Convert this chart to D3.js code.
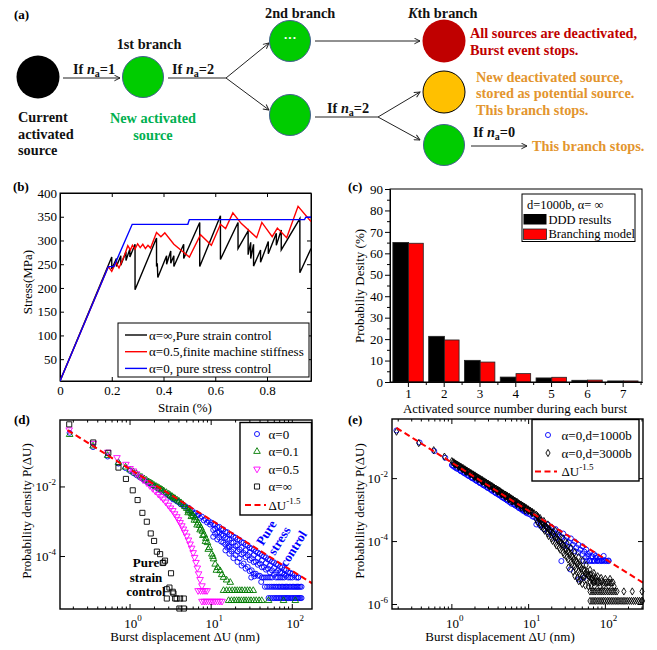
<!DOCTYPE html>
<html>
<head>
<meta charset="utf-8">
<script src="https://cdn.jsdelivr.net/npm/d3@7"></script>
<style>
  body { margin: 0; background: #fff; }
  svg { display: block; }
  text { font-family: "Liberation Serif", "Times New Roman", serif; }
</style>
</head>
<body>
<svg id="fig" width="657" height="650"></svg>
<script>
// ---------------- data ----------------
// (b) stress-strain curves [strain %, stress MPa]
var strainControl = [[0,4],[0.2,265],[0.2,240],[0.218,262],[0.218,245],[0.235,268],[0.235,248],[0.255,276],[0.255,258],[0.27,282],[0.27,265],[0.29,292],[0.29,196],[0.373,305],[0.373,245],[0.376,252],[0.378,222],[0.412,268],[0.412,250],[0.428,278],[0.428,252],[0.44,268],[0.44,245],[0.478,292],[0.478,262],[0.54,338],[0.54,245],[0.62,352],[0.62,260],[0.688,338],[0.688,283],[0.727,320],[0.727,270],[0.737,296],[0.737,262],[0.748,292],[0.748,246],[0.775,280],[0.775,254],[0.805,298],[0.805,272],[0.836,315],[0.836,290],[0.855,322],[0.855,280],[0.927,346],[0.927,232],[0.97,283]];
var finiteStiffness = [[0,4],[0.187,245],[0.2,235],[0.216,254],[0.228,242],[0.25,270],[0.262,289],[0.272,280],[0.28,290],[0.29,282],[0.3,293],[0.31,285],[0.32,292],[0.33,283],[0.34,290],[0.35,284],[0.373,317],[0.39,308],[0.405,316],[0.44,292],[0.5,265],[0.543,312],[0.585,290],[0.62,334],[0.64,325],[0.668,358],[0.7,336],[0.76,306],[0.78,338],[0.82,308],[0.84,326],[0.876,306],[0.92,372],[0.97,340]];
var stressControl = [[0,4],[0.187,245],[0.208,245],[0.279,334],[0.494,334],[0.5,344],[0.945,344],[0.95,349],[0.97,349]];

// (c) activated source number per burst, probability (%)
var sourceNumbers = [1, 2, 3, 4, 5, 6, 7];
var dddResults = [65.1, 21.3, 10.1, 2.3, 1.9, 0.8, 0.5];
var branchingModel = [64.7, 19.6, 9.3, 3.9, 2.2, 0.9, 0.5];

// (d) burst size distributions [dU nm, P]
var dAlpha0 = [[0.18,0.36],[0.35,0.14],[0.53,0.075],[0.72,0.047],[0.88,0.035],[1.0,0.029],[1.1,0.025],[1.2,0.022],[1.3,0.0195],[1.4,0.0175],[1.5,0.0158],[1.6,0.0143],[1.7,0.013],[1.8,0.012],[1.9,0.011],[2.0,0.0103],[2.2,0.0089],[2.4,0.0078],[2.6,0.007],[2.8,0.0063],[3.0,0.0057],[3.3,0.0049],[3.6,0.0043],[4.0,0.0037],[4.4,0.0032],[4.8,0.0028],[5.3,0.0025],[5.8,0.0021],[6.4,0.0018],[7.0,0.0016],[7.7,0.0014],[8.5,0.0012],[9.3,0.00105],[10,9.5e-4],
  [3.1,0.0052],[3.4,0.0044],[3.8,0.0038],[4.2,0.0032],[4.6,0.0028],[5.1,0.0024],[5.6,0.002],[6.1,0.0017],[6.7,0.0015],[7.3,0.0013],[8.1,0.0011],[8.9,9.5e-4],[9.7,8.3e-4],
  [11.2,8.3e-4],[11.2,6.3e-4],[11.2,4.5e-4],[12.6,7.1e-4],[12.6,5e-4],[12.6,3.5e-4],[14.1,6e-4],[14.1,4e-4],[14.1,2.5e-4],[15.8,5e-4],[15.8,3.2e-4],[15.8,1.8e-4],[16.4,2.04e-4],[17.8,4.2e-4],[17.8,2.5e-4],[17.8,1.4e-4],[20,3.5e-4],[20,2e-4],[20,1.1e-4],[22.4,3e-4],[22.4,1.6e-4],[22.4,8.9e-5],[25.1,2.5e-4],[25.1,1.26e-4],[25.1,6.3e-5],[28.2,2.1e-4],[28.2,1.1e-4],[28.2,5e-5],[31.2,2.5e-5],[31.6,1.7e-4],[31.6,8.9e-5],[31.6,4e-5],[34,2.7e-5],[35.5,1.4e-4],[35.5,7.1e-5],[35.5,3.2e-5],[39.8,1.2e-4],[39.8,6.3e-5],[39.8,2.8e-5],[41.4,1.86e-5],[44.7,1e-4],[44.7,5e-5],[44.7,2.5e-5],[50.1,8.3e-5],[50.1,4.5e-5],[50.1,2.5e-5],[56.2,7.1e-5],[56.2,4e-5],[56.2,2.5e-5],[63.1,6e-5],[63.1,3.5e-5],[63.1,2.5e-5],[70.8,5e-5],[70.8,3.5e-5],[70.8,2.5e-5],[79.4,4.2e-5],[79.4,3e-5],[79.4,2.5e-5],[89.1,3.5e-5],[89.1,2.5e-5],[100,3.2e-5],[100,2.5e-5],[112,2.5e-5],[118,2.5e-5],
  [10.6,8.4e-4],[10.6,5.8e-4],[10.6,3.7e-4],[11.9,7.1e-4],[11.9,4.9e-4],[11.9,3.1e-4],[13.3,6.1e-4],[13.3,4.2e-4],[13.3,2.7e-4],
  [15,5.1e-4],[15,3.5e-4],[15,2.2e-4],[15,1.5e-4],[16.8,4.3e-4],[16.8,3e-4],[16.8,1.9e-4],[16.8,1.2e-4],
  [18.8,3.7e-4],[18.8,2.5e-4],[18.8,1.6e-4],[18.8,9e-5],[21.1,3.1e-4],[21.1,2.1e-4],[21.1,1.4e-4],[21.1,7e-5],
  [23.7,2.6e-4],[23.7,1.8e-4],[23.7,1.15e-4],[23.7,5.5e-5],[26.6,2.2e-4],[26.6,1.5e-4],[26.6,9.6e-5],[26.6,4.5e-5],
  [29.9,1.8e-4],[29.9,1.3e-4],[29.9,8e-5],[29.9,3.8e-5],[33.5,1.6e-4],[33.5,1.1e-4],[33.5,6.9e-5],[33.5,3.2e-5],
  [37.6,1.3e-4],[37.6,9.1e-5],[37.6,5.8e-5],[37.6,2.8e-5],[42.2,1.1e-4],[42.2,7.7e-5],[42.2,4.9e-5],[42.2,2.5e-5],
  [47.3,9.5e-5],[47.3,6.5e-5],[47.3,4.2e-5],[47.3,2.5e-5],[53.1,8e-5],[53.1,5.5e-5],[53.1,3.5e-5],[53.1,2.5e-5],
  [59.6,6.8e-5],[59.6,4.7e-5],[59.6,3e-5],[66.8,5.8e-5],[66.8,4e-5],[66.8,2.5e-5],[75,4.9e-5],[75,3.4e-5],[75,2.5e-5],
  [84.1,4.1e-5],[84.1,2.8e-5],[94.4,3.4e-5],[94.4,2.5e-5],[106,2.9e-5],[119,2.5e-5],
  [46,1.35e-5],[49,1.35e-5],[52,1.35e-5],[55,1.35e-5],[58,1.35e-5],[61,1.35e-5],[64,1.35e-5],[67,1.35e-5],[70,1.35e-5],[73,1.35e-5],[76,1.35e-5],[79,1.35e-5],[82,1.35e-5],[85,1.35e-5],[88,1.35e-5],[92,1.35e-5],[96,1.35e-5],[100,1.35e-5],[104,1.35e-5],[108,1.35e-5],[112,1.35e-5],[116,1.35e-5],[120,1.35e-5],[125,1.35e-5],[130,1.35e-5],
  [51,6.4e-6],[54,6.4e-6],[57,6.4e-6],[60,6.4e-6],[63,6.4e-6],[66,6.4e-6],[69,6.4e-6],[72,6.4e-6],[75,6.4e-6],[78,6.4e-6],[81,6.4e-6],[84,6.4e-6],[87,6.4e-6],[90,6.4e-6],[94,6.4e-6],[98,6.4e-6],[102,6.4e-6],[106,6.4e-6],[110,6.4e-6],[114,6.4e-6],[118,6.4e-6],[122,6.4e-6],[126,6.4e-6],[130,6.4e-6]];
var dAlpha01 = [[0.18,0.32],[0.35,0.15],[0.53,0.08],[0.72,0.05],[0.88,0.037],[1.0,0.031],[1.1,0.027],[1.2,0.024],[1.3,0.021],[1.4,0.019],[1.5,0.017],[1.6,0.0155],[1.7,0.014],[1.8,0.013],[1.9,0.012],[2.0,0.011],[2.1,0.0103],[2.2,0.0097],[2.3,0.0091],[2.4,0.0086],[2.5,0.0081],[2.6,0.0077],[2.8,0.0069],[3.0,0.0062],[3.15,0.0057],[3.3,0.0053],[3.45,0.0049],[3.6,0.0046],[3.8,0.0042],[4.0,0.0039],[4.25,0.0035],[4.5,0.0031],[4.75,0.0027],[5.0,0.0024],[5.25,0.0021],[5.5,0.0019],[5.75,0.0017],[6.0,0.0015],[6.3,0.0013],[6.6,0.0011],[6.9,9.2e-4],[7.2,7.8e-4],[7.5,6.5e-4],[7.8,5.3e-4],[8.2,4.2e-4],[8.6,3.3e-4],[9.0,2.5e-4],[9.5,1.8e-4],[10.2,1.17e-4],[10.7,8.5e-5],[11.2,6e-5],[12.0,4.8e-5],[12.9,3.9e-5],[13.5,3e-5],[14.2,2.5e-5],[15.5,2.1e-5],[17.2,1.8e-5],
  [5.2,0.0018],[5.7,0.0014],[6.2,0.0011],[6.7,8e-4],[7.3,5.8e-4],[7.9,4e-4],[8.5,2.7e-4],[9.2,1.6e-4],[10.5,1e-4],[11.6,4e-5],
  [14.2,1.05e-5],[15.5,1.05e-5],[16.8,1.05e-5],[18.2,1.05e-5],[19.6,1.05e-5],[21,1.05e-5],[22.5,1.05e-5],[24,1.05e-5],[26,1.05e-5],[28,1.05e-5],[30,1.05e-5],[33,1.05e-5],
  [16.4,5.4e-6],[17.8,5.4e-6],[19.2,5.4e-6],[20.6,5.4e-6],[22,5.4e-6],[23.6,5.4e-6],[25.3,5.4e-6],[27,5.4e-6],[29,5.4e-6],[31,5.4e-6],[33.5,5.4e-6],[36,5.4e-6],[39,5.4e-6],[42,5.4e-6],[51,5.4e-6],[78,5.4e-6],[109,5.4e-6]];
var dAlpha05 = [[0.178,0.44],[0.352,0.18],[0.53,0.1],[0.69,0.07],[0.89,0.045],[1.0,0.034],[1.1,0.029],[1.2,0.024],[1.33,0.0195],[1.45,0.016],[1.61,0.0133],[1.75,0.011],[1.9,0.0091],[2.05,0.0076],[2.24,0.0062],[2.4,0.0053],[2.57,0.0045],[2.75,0.0037],[2.97,0.003],[3.15,0.0025],[3.37,0.0021],[3.55,0.0017],[3.77,0.0014],[3.95,0.00115],[4.14,9.5e-4],[4.35,7.7e-4],[4.55,6.2e-4],[4.75,5e-4],[5.0,3.9e-4],[5.25,3e-4],[5.5,2.3e-4],[5.75,1.75e-4],[6.0,1.3e-4],[6.25,9.5e-5],[6.5,6.8e-5],[6.75,4.7e-5],[7.0,3.2e-5],[7.3,2.2e-5],[7.7,1.45e-5],
  [6.9,1.05e-5],[7.4,1.05e-5],[7.9,1.05e-5],[8.4,1.05e-5],[8.9,1.05e-5],
  [7.7,5.2e-6],[8.2,5.2e-6],[8.7,5.2e-6],[9.3,5.2e-6],[9.9,5.2e-6],[10.5,5.2e-6],[11.2,5.2e-6],[12,5.2e-6],[12.8,5.2e-6],[13.6,5.2e-6]];
var dAlphaInf = [[0.178,0.63],[0.352,0.19],[0.54,0.096],[0.72,0.036],[0.89,0.017],[1.08,0.008],[1.24,0.0042],[1.42,0.0018],[1.61,0.001],[1.8,4.6e-4],[1.98,2.8e-4],[2.14,1.38e-4],[2.35,1.17e-4],[2.53,6.5e-5],[2.7,7.6e-5],[2.58,6.7e-5],[3.2,3.3e-5],[3.06,1.28e-5],[3.36,9.7e-6],[2.84,1.15e-5],[3.43,8.7e-6],[2.84,6.2e-6],[3.6,6.2e-6],[3.75,6.2e-6],[4.14,6.2e-6],[4.6,6.2e-6],[4.06,3.2e-6],[4.6,3.2e-6]];
var dashD = [[0.17, 0.43], [175, 1.7e-5]];

// (e) size effect
var eD1000 = [[0.19,0.34],[0.38,0.14],[0.59,0.075],[0.82,0.046],[1.0,0.027],[1.12,0.0224],[1.26,0.019],[1.41,0.0158],[1.58,0.0132],[1.78,0.011],[2.0,0.0093],[2.24,0.0078],[2.51,0.0065],[2.82,0.0055],[3.16,0.0046],[3.55,0.0038],[3.98,0.0032],[4.47,0.0026],[5.01,0.0022],[5.62,0.0018],[6.31,0.00155],[7.08,0.0013],[7.94,0.00107],[8.91,8.9e-4],[10,7.6e-4],[11.2,6.3e-4],
  [1.06,0.024],[1.19,0.0205],[1.33,0.017],[1.5,0.0143],[1.68,0.012],[1.89,0.01],[2.12,0.0084],[2.37,0.0071],[2.66,0.006],[2.99,0.005],[3.35,0.0041],[3.76,0.0034],[4.22,0.0029],[4.73,0.0024],[5.3,0.002],[5.96,0.0016],[6.68,0.0014],[7.5,0.00115],[8.4,9.6e-4],[9.4,8e-4],
  [1.03,0.026],[1.15,0.021],[1.3,0.0175],[1.45,0.0148],[1.63,0.0124],[1.83,0.0104],[2.06,0.0087],[2.31,0.0073],[2.6,0.0061],[2.92,0.0051],[3.28,0.0043],[3.68,0.0036],[4.13,0.003],[4.64,0.0025],[5.21,0.0021],[5.85,0.0018],[6.57,0.0015],[7.38,0.00125],[8.29,0.00104],[9.31,8.7e-4],[10.5,7.2e-4],[11.8,6e-4],
  [12.6,5.6e-4],[12.6,3.5e-4],[14.1,5e-4],[14.1,3.2e-4],[15.8,4e-4],[15.8,2.5e-4],[17.8,3.5e-4],[17.8,2e-4],[20,2.8e-4],[20,1.6e-4],[22.4,2.5e-4],[22.4,1.26e-4],[25.1,2e-4],[25.1,1e-4],[28.2,1.8e-4],[28.2,7.9e-5],[31.6,1.4e-4],[31.6,7.1e-5],[35.5,1.26e-4],[35.5,6.3e-5],[39.8,1e-4],[39.8,5e-5],[44.7,7.9e-5],[44.7,4.5e-5],[50.1,7.1e-5],[50.1,4e-5],[56.2,5.6e-5],[56.2,3.2e-5],[63.1,4.5e-5],[63.1,2.5e-5],[70.8,4e-5],[70.8,2.5e-5],[79.4,3.2e-5],[79.4,2.5e-5],[89.1,2.5e-5],[100,2.5e-5],[110,2.5e-5],
  [13.3,4.3e-4],[15,3.5e-4],[16.8,3e-4],[18.9,2.4e-4],[21.2,2e-4],[23.7,1.7e-4],[26.6,1.4e-4],[30,1.1e-4],[33.5,9.5e-5],[37.6,8e-5],[42,6.5e-5],[47.3,5.5e-5],[53,4.8e-5],[59.5,4e-5],[67,3.4e-5],[75,3e-5],[84,2.8e-5],[94,2.6e-5],
  [26.7,2.4e-5],[35,1.3e-5],[44.9,6.3e-6],[52,7e-6],
  [52,2.4e-5],[57,2.4e-5],[62,2.4e-5],[67,2.4e-5],[72,2.4e-5],[78,2.4e-5],[84,2.4e-5],[90,2.4e-5],[97,2.4e-5],[104,2.4e-5],[110,2.4e-5],[60,3.5e-5],[75,3.5e-5],[95,3.5e-5]];
var eD3000 = [[0.19,0.31],[0.37,0.135],[0.58,0.08],[0.8,0.05],[1.0,0.036],[1.06,0.033],[1.12,0.03],[1.19,0.0275],[1.26,0.025],[1.33,0.023],[1.41,0.0214],[1.5,0.0195],[1.58,0.0178],[1.68,0.0162],[1.78,0.0148],[1.89,0.0136],[2.0,0.0126],[2.12,0.0114],[2.24,0.0105],[2.37,0.0096],[2.51,0.0089],[2.66,0.0081],[2.82,0.0074],[2.99,0.0068],[3.16,0.0062],[3.35,0.0057],[3.55,0.0052],[3.76,0.0048],[3.98,0.0044],[4.22,0.004],[4.47,0.0036],[4.73,0.0033],[5.01,0.0031],[5.3,0.0028],[5.62,0.0026],[5.96,0.0023],[6.31,0.0021],[6.68,0.0019],[7.08,0.0018],[7.5,0.0016],[7.94,0.0015],[8.4,0.00135],[8.91,0.00123],[9.4,0.00112],[10,0.00102],[10.6,9.2e-4],[11.2,8.5e-4],
  [1.5,0.017],[2.0,0.0112],[2.5,0.008],[3.0,0.006],[3.5,0.0047],[4.0,0.0038],[4.5,0.0031],[5.0,0.0026],[5.5,0.0022],[6.0,0.0019],[7.0,0.0015],[8.0,0.0012],[9.0,9.8e-4],
  [1.03,0.033],[1.09,0.0305],[1.15,0.028],[1.22,0.0255],[1.3,0.0235],[1.37,0.0215],[1.45,0.0197],[1.54,0.018],[1.63,0.0166],[1.73,0.0152],[1.83,0.0139],[1.94,0.0127],[2.06,0.0117],[2.18,0.0107],[2.31,0.0098],[2.45,0.009],[2.6,0.0082],[2.75,0.0076],[2.92,0.0069],[3.09,0.0063],[3.28,0.0058],[3.47,0.0053],[3.68,0.0048],[3.9,0.0044],[4.13,0.0041],[4.38,0.0037],[4.64,0.0034],[4.92,0.0031],[5.21,0.0028],[5.52,0.0026],[5.85,0.0024],[6.2,0.0022],[6.57,0.002],[6.96,0.0018],[7.38,0.00165],[7.82,0.0015],[8.29,0.00138],[8.78,0.00127],[9.31,0.00116],[9.86,0.00106],[10.5,9.5e-4],[11.1,8.7e-4],[11.8,7.9e-4],
  [1.09,0.028],[1.22,0.0237],[1.37,0.0198],[1.54,0.0165],[1.73,0.0138],[1.94,0.0116],[2.18,0.0097],[2.45,0.0081],[2.75,0.0068],[3.09,0.0056],[3.47,0.0047],[3.9,0.0039],[4.38,0.0033],[4.92,0.0028],[5.52,0.0023],[6.2,0.0019],[6.96,0.0016],[7.82,0.00135],[8.78,0.00114],[9.86,9.5e-4],[11.1,8e-4],
  [12.6,7.1e-4],[12.6,5e-4],[14.1,5.6e-4],[14.1,3.5e-4],[15.8,4.5e-4],[15.8,2.5e-4],[17.8,3.5e-4],[17.8,1.8e-4],[20,2.8e-4],[20,1.26e-4],[22.4,2.2e-4],[22.4,8.9e-5],[25.1,1.6e-4],[25.1,6.3e-5],[28.2,1.26e-4],[28.2,4.5e-5],[31.6,8.9e-5],[31.6,3.2e-5],[35.5,6.3e-5],[35.5,2.2e-5],[39.8,4.5e-5],[39.8,1.6e-5],[44.7,3.2e-5],[44.7,1.1e-5],[50.1,2.5e-5],[50.1,7.9e-6],[56.2,1.8e-5],[56.2,6.3e-6],[63.1,1.26e-5],[63.1,5e-6],[70.8,1e-5],[70.8,5e-6],[79.4,7.9e-6],[79.4,5e-6],[89,5.6e-6],[100,5e-6],[112,5e-6],[126,5e-6],
  [13.3,6e-4],[15,4e-4],[16.8,3e-4],[18.9,2.2e-4],[21.2,1.7e-4],[23.7,1.2e-4],[26.6,9e-5],[30,6e-5],[33.5,4.5e-5],[37.6,3.2e-5],[42,2.2e-5],[47,1.6e-5],[53,1.2e-5],[60,8.5e-6],[67,7e-6],
  [13,6.5e-4],[13,4.2e-4],[13.7,5.2e-4],[14.5,4.6e-4],[14.5,3e-4],[15.3,3.8e-4],[16.2,3.4e-4],[16.2,2.2e-4],[17.2,2.8e-4],[18.2,2.5e-4],[18.2,1.5e-4],[19.3,2.1e-4],[20.5,1.9e-4],[20.5,1.05e-4],[21.7,1.5e-4],[23,1.35e-4],[23,7.5e-5],[24.4,1.1e-4],[25.8,9.5e-5],[25.8,5.5e-5],[27.4,8e-5],[29,7e-5],[29,3.8e-5],[30.8,5.6e-5],[32.6,5e-5],[32.6,2.7e-5],[34.6,4e-5],[36.6,3.5e-5],[36.6,1.9e-5],[38.8,2.8e-5],[41.1,2.5e-5],[41.1,1.35e-5],[43.6,2e-5],[46.2,1.8e-5],[46.2,9.5e-6],[49,1.4e-5],[51.9,1.3e-5],[55,1e-5],[58.3,9e-6],[61.8,7.5e-6],[65.5,6.5e-6],[69.4,6e-6],[73.6,5.5e-6],[78,5.5e-6],[84,5e-6],[95,5e-6],[106,5e-6],[119,5e-6],
  [40,8e-6],[45,5.5e-6],[50,4.5e-6],[55,4e-6],[60,3.8e-6],[65,4e-6],[72,3.8e-6],[85,3.8e-6],[95,4e-6],[110,3.8e-6],[130,3.8e-6],[33,1.5e-5],[38,1.1e-5],[43,7e-6],[48,6e-6],[53,7.5e-6],[58,1.1e-5],[64,9e-6],[70,8e-6],[76,7e-6],[88,7e-6],[100,6.5e-6],[115,6.5e-6],
  [63,2.6e-6],[67,2.6e-6],[71,2.6e-6],[75,2.6e-6],[80,2.6e-6],[85,2.6e-6],[90,2.6e-6],[95,2.6e-6],[100,2.6e-6],[106,2.6e-6],[112,2.6e-6],[119,2.6e-6],[126,2.6e-6],[134,2.6e-6],[142,2.6e-6],[174,2.6e-6],[224,2.6e-6],[300,2.6e-6],
  [63,1.3e-6],[67,1.3e-6],[71,1.3e-6],[75,1.3e-6],[80,1.3e-6],[85,1.3e-6],[90,1.3e-6],[95,1.3e-6],[100,1.3e-6],[106,1.3e-6],[112,1.3e-6],[119,1.3e-6],[126,1.3e-6],[134,1.3e-6],[142,1.3e-6],[150,1.3e-6],[160,1.3e-6],[170,1.3e-6],[180,1.3e-6],[192,1.3e-6],[205,1.3e-6],[218,1.3e-6],[232,1.3e-6],[246,1.3e-6],[262,1.3e-6],[278,1.3e-6],[295,1.3e-6],[305,1.3e-6]];
var dashE = [[0.19, 0.41], [309, 4.9e-6]];

// ---------------- setup ----------------
var svg = d3.select("#fig");
var serif = "Liberation Serif";

var defs = svg.append("defs");
defs.append("marker")
    .attr("id", "arrow")
    .attr("viewBox", "0 0 10 10")
    .attr("refX", 9).attr("refY", 5)
    .attr("markerWidth", 7).attr("markerHeight", 7)
    .attr("markerUnits", "userSpaceOnUse")
    .attr("orient", "auto")
    .append("path")
    .attr("d", "M1,1 L9,5 L1,9")
    .attr("fill", "none")
    .attr("stroke", "#222")
    .attr("stroke-width", 1.4);

function panelLabel(x, y, t) {
    svg.append("text").attr("x", x).attr("y", y)
        .attr("font-size", 13).attr("font-weight", "bold").text(t);
}

// scale a group of texts so that one reference text gets the wanted width
function fitGroup(texts, ref, target) {
    var w = ref.node().getComputedTextLength();
    if (!w) return;
    var k = target / w;
    if (Math.abs(k - 1) < 0.03) return;
    texts.forEach(function(t) { t.attr("font-size", +t.attr("font-size") * k); });
}

// ---------------- (a) branching diagram ----------------
var ga = svg.append("g");
var aGreen = "#00cc00", aRed = "#c00000", aOrange = "#e3952e";
var aNodes = [
    {cx: 38, cy: 77, r: 21.5, fill: "#000", stroke: "none"},
    {cx: 143, cy: 77, r: 20.5, fill: aGreen, stroke: "#44618f"},
    {cx: 290, cy: 41, r: 20.5, fill: aGreen, stroke: "#44618f"},
    {cx: 290, cy: 115, r: 20.5, fill: aGreen, stroke: "#44618f"},
    {cx: 444, cy: 41, r: 21.5, fill: aRed, stroke: "none"},
    {cx: 444, cy: 92, r: 21, fill: "#ffc000", stroke: "#000"},
    {cx: 444, cy: 145, r: 20.5, fill: aGreen, stroke: "#44618f"}
];
var aLinks = [
    {p: [[63,78],[120,78]], head: true},
    {p: [[168,78],[226,78]], head: false},
    {p: [[226,78],[269,43]], head: true},
    {p: [[226,78],[269,110]], head: true},
    {p: [[315,41],[420,41]], head: true},
    {p: [[315,117],[378,117]], head: false},
    {p: [[378,117],[420,92]], head: true},
    {p: [[378,117],[420,140]], head: true},
    {p: [[471,146],[527,146]], head: true}
];
aLinks.forEach(function(l) {
    ga.append("line")
        .attr("x1", l.p[0][0]).attr("y1", l.p[0][1])
        .attr("x2", l.p[1][0]).attr("y2", l.p[1][1])
        .attr("stroke", "#222").attr("stroke-width", 1)
        .attr("marker-end", l.head ? "url(#arrow)" : null);
});
ga.selectAll("circle").data(aNodes).join("circle")
    .attr("cx", d => d.cx).attr("cy", d => d.cy).attr("r", d => d.r)
    .attr("fill", d => d.fill).attr("stroke", d => d.stroke).attr("stroke-width", 1);
ga.append("text").attr("x", 290).attr("y", 42).attr("text-anchor", "middle")
    .attr("fill", "#fff").attr("font-size", 13).attr("font-weight", "bold").text("···");

var aFont = 14.3;
function aText(x, y, color, anchor) {
    return ga.append("text").attr("x", x).attr("y", y).attr("fill", color)
        .attr("font-size", aFont).attr("font-weight", "bold")
        .attr("text-anchor", anchor || "start");
}
function ifNa(x, y, v) {
    var t = aText(x, y, "#111");
    t.append("tspan").text("If ");
    t.append("tspan").attr("font-style", "italic").text("n");
    t.append("tspan").attr("font-size", 10).attr("dy", 3).text("a");
    t.append("tspan").attr("dy", -3).text("=" + v);
}
ifNa(73, 74, "1");
ifNa(172, 74, "2");
ifNa(327, 113, "2");
ifNa(473, 137, "0");
aText(149, 49, "#111", "middle").text("1st branch");
aText(265, 18, "#111").text("2nd branch");
var kth = aText(408, 18, "#111");
kth.append("tspan").attr("font-style", "italic").text("K");
kth.append("tspan").text("th branch");
aText(18, 122, "#111").text("Current");
aText(18, 138.5, "#111").text("activated");
aText(18, 155, "#111").text("source");
aText(153, 123, "#00b050", "middle").text("New activated");
aText(153, 140, "#00b050", "middle").text("source");
var aLong = [
    aText(470, 37.5, aRed).text("All sources are deactivated,"),
    aText(470, 54.5, aRed).text("Burst event stops."),
    aText(476, 81.5, aOrange).text("New deactivated source,"),
    aText(476, 98.3, aOrange).text("stored as potential source."),
    aText(476, 114.5, aOrange).text("This branch stops."),
    aText(532, 150.5, aOrange).text("This branch stops.")
];
fitGroup(aLong, aLong[0], 164);
panelLabel(14, 19, "(a)");

// ---------------- (b) stress-strain ----------------
var xb = d3.scaleLinear().domain([0, 0.97]).range([60, 311]);
var yb = d3.scaleLinear().domain([4, 400]).range([381, 193]);
var gb = svg.append("g");

function styleAxis(g, size) {
    g.attr("font-family", serif).attr("font-size", size);
    g.selectAll("text").attr("fill", "#000");
}
var bxTicks = [0, 0.2, 0.4, 0.6, 0.8];
var byTicks = [50, 100, 150, 200, 250, 300, 350, 400];
gb.append("g").attr("transform", "translate(0,381)")
    .call(d3.axisBottom(xb).tickValues(bxTicks).tickFormat(d => d === 0 ? "0" : d3.format(".1f")(d))
        .tickSizeInner(-4).tickSizeOuter(0).tickPadding(5))
    .call(g => styleAxis(g, 13));
gb.append("g").attr("transform", "translate(0,193)")
    .call(d3.axisTop(xb).tickValues(bxTicks.slice(1)).tickFormat("").tickSizeInner(-4).tickSizeOuter(0));
gb.append("g").attr("transform", "translate(60,0)")
    .call(d3.axisLeft(yb).tickValues(byTicks).tickSizeInner(-4).tickSizeOuter(0).tickPadding(3))
    .call(g => styleAxis(g, 13));
gb.append("g").attr("transform", "translate(311,0)")
    .call(d3.axisRight(yb).tickValues(byTicks).tickFormat("").tickSizeInner(-4).tickSizeOuter(0));
gb.append("rect").attr("x", 60).attr("y", 193).attr("width", 251).attr("height", 188)
    .attr("fill", "none").attr("stroke", "#000").attr("stroke-width", 1);

defs.append("clipPath").attr("id", "clipB").append("rect")
    .attr("x", 60).attr("y", 193).attr("width", 251).attr("height", 188);
var lineB = d3.line().x(d => xb(d[0])).y(d => yb(d[1]));
var bSeries = [
    {data: strainControl, color: "#000000", label: "\u03b1=\u221e,Pure strain control"},
    {data: finiteStiffness, color: "#ff0000", label: "\u03b1=0.5,finite machine stiffness"},
    {data: stressControl, color: "#0000ff", label: "\u03b1=0, pure stress control"}
];
gb.append("g").attr("clip-path", "url(#clipB)")
    .selectAll("path").data(bSeries).join("path")
    .attr("d", d => lineB(d.data)).attr("fill", "none")
    .attr("stroke", d => d.color).attr("stroke-width", 1.4);

var legB = gb.append("g");
legB.append("rect").attr("x", 118).attr("y", 323).attr("width", 191).attr("height", 54)
    .attr("fill", "#fff").attr("stroke", "#000").attr("stroke-width", 1);
var legBTexts = bSeries.map(function(s, i) {
    var yy = 335 + i * 16.7;
    legB.append("line").attr("x1", 125).attr("x2", 147).attr("y1", yy).attr("y2", yy)
        .attr("stroke", s.color).attr("stroke-width", 1.4);
    return legB.append("text").attr("x", 149).attr("y", yy + 4.5).attr("font-size", 13).text(s.label);
});
fitGroup(legBTexts, legBTexts[1], 156);
gb.append("text").attr("x", 185).attr("y", 412).attr("text-anchor", "middle")
    .attr("font-size", 13).text("Strain (%)");
gb.append("text").attr("transform", "translate(32,282) rotate(-90)").attr("text-anchor", "middle")
    .attr("font-size", 13).text("Stress(MPa)");
panelLabel(13, 191, "(b)");

// ---------------- (c) bar chart ----------------
var xc = d3.scaleLinear().domain([0.5, 7.54]).range([390, 642]);
var yc = d3.scaleLinear().domain([0, 90]).range([382, 189]);
var gc = svg.append("g");
gc.append("g").attr("transform", "translate(390,0)")
    .call(d3.axisLeft(yc).tickValues(d3.range(5, 90, 10)).tickFormat("").tickSizeInner(3).tickSizeOuter(0));
gc.append("g").attr("transform", "translate(390,0)")
    .call(d3.axisLeft(yc).tickValues(d3.range(0, 91, 10)).tickFormat(d3.format("d")).tickSizeInner(5).tickSizeOuter(0).tickPadding(2))
    .call(g => styleAxis(g, 13));
gc.append("g").attr("transform", "translate(0,382)")
    .call(d3.axisBottom(xc).tickValues(sourceNumbers).tickFormat(d3.format("d")).tickSizeInner(5).tickSizeOuter(0).tickPadding(2))
    .call(g => styleAxis(g, 13));
gc.append("g").attr("transform", "translate(0,382)")
    .call(d3.axisBottom(xc).tickValues(sourceNumbers.map(d => d + 0.5)).tickFormat("").tickSizeInner(3).tickSizeOuter(0));

var barData = sourceNumbers.map((n, i) => ({n: n, ddd: dddResults[i], bm: branchingModel[i]}));
gc.selectAll("rect.ddd").data(barData).join("rect").attr("class", "ddd")
    .attr("x", d => xc(d.n - 0.42)).attr("width", d => xc(d.n + 0.02) - xc(d.n - 0.42))
    .attr("y", d => yc(d.ddd)).attr("height", d => yc(0) - yc(d.ddd))
    .attr("fill", "#000").attr("stroke", "#222").attr("stroke-width", 0.8);
gc.selectAll("rect.bm").data(barData).join("rect").attr("class", "bm")
    .attr("x", d => xc(d.n + 0.02)).attr("width", d => xc(d.n + 0.43) - xc(d.n + 0.02))
    .attr("y", d => yc(d.bm)).attr("height", d => yc(0) - yc(d.bm))
    .attr("fill", "#ff0000").attr("stroke", "#222").attr("stroke-width", 0.8);
gc.append("rect").attr("x", 390).attr("y", 189).attr("width", 252).attr("height", 193)
    .attr("fill", "none").attr("stroke", "#000").attr("stroke-width", 1);

var legC = gc.append("g");
legC.append("rect").attr("x", 522).attr("y", 194).attr("width", 113).attr("height", 47.5)
    .attr("fill", "#fff").attr("stroke", "#000").attr("stroke-width", 1);
legC.append("text").attr("x", 527).attr("y", 208.5).attr("font-size", 12.5).text("d=1000b, \u03b1= \u221e");
legC.append("rect").attr("x", 523.5).attr("y", 214).attr("width", 23).attr("height", 10.5).attr("fill", "#000");
legC.append("text").attr("x", 548.5).attr("y", 223.5).attr("font-size", 12.5).text("DDD results");
legC.append("rect").attr("x", 523.5).attr("y", 229).attr("width", 23).attr("height", 10.5)
    .attr("fill", "#ff0000").attr("stroke", "#222").attr("stroke-width", 0.8);
legC.append("text").attr("x", 548.5).attr("y", 238).attr("font-size", 12.5).text("Branching model");

gc.append("text").attr("x", 515).attr("y", 413).attr("text-anchor", "middle")
    .attr("font-size", 13).text("Activated source number during each burst");
gc.append("text").attr("transform", "translate(364,286) rotate(-90)").attr("text-anchor", "middle")
    .attr("font-size", 13).text("Probabiliy Desity (%)");
panelLabel(348, 191, "(c)");

// ---------------- log-log panels ----------------
function logPanel(g, x, y, yLabelTicks, xLabelTicks, labelX) {
    var r = x.range(), ry = y.range();
    var x0 = r[0], x1 = r[1], yBot = ry[0], yTop = ry[1];
    var dom = x.domain();
    var minors = [];
    for (var e = -1; e <= 2; e++) {
        for (var m = 1; m < 10; m++) {
            var v = m * Math.pow(10, e);
            if (v > dom[0] && v < dom[1]) minors.push({v: v, major: m === 1});
        }
    }
    var tk = g.append("g").attr("stroke", "#000").attr("stroke-width", 1);
    minors.forEach(function(t) {
        var len = t.major ? 5 : 2.5;
        tk.append("line").attr("x1", x(t.v)).attr("x2", x(t.v)).attr("y1", yBot).attr("y2", yBot - len);
        tk.append("line").attr("x1", x(t.v)).attr("x2", x(t.v)).attr("y1", yTop).attr("y2", yTop + len);
    });
    yLabelTicks.forEach(function(v) {
        tk.append("line").attr("x1", x0).attr("x2", x0 + 5).attr("y1", y(v)).attr("y2", y(v));
        tk.append("line").attr("x1", x1).attr("x2", x1 - 5).attr("y1", y(v)).attr("y2", y(v));
        var t = g.append("text").attr("x", labelX).attr("y", y(v) + 4.5)
            .attr("text-anchor", "end").attr("font-size", 13).text("10");
        t.append("tspan").attr("dy", -6).attr("font-size", 9).text(String(Math.round(Math.log10(v))));
    });
    xLabelTicks.forEach(function(v) {
        var t = g.append("text").attr("x", x(v) + 3).attr("y", yBot + 18.5)
            .attr("text-anchor", "middle").attr("font-size", 13).text("10");
        t.append("tspan").attr("dy", -6.5).attr("font-size", 9).text(String(Math.round(Math.log10(v))));
    });
    g.append("rect").attr("x", x0).attr("y", yTop).attr("width", x1 - x0).attr("height", yBot - yTop)
        .attr("fill", "none").attr("stroke", "#000").attr("stroke-width", 1.4);
}

var circleSym = d3.symbol().type(d3.symbolCircle).size(20)();
var triSym = d3.symbol().type(d3.symbolTriangle).size(19)();
var squareSym = d3.symbol().type(d3.symbolSquare).size(26)();
var diamondSym = d3.symbol().type(d3.symbolDiamond).size(15)();

function scatter(g, data, x, y, sym, color, rot) {
    g.append("g").selectAll("path").data(data).join("path")
        .attr("d", sym)
        .attr("transform", d => "translate(" + x(d[0]) + "," + y(d[1]) + ")" + (rot ? " rotate(" + rot + ")" : ""))
        .attr("fill", "none").attr("stroke", color).attr("stroke-width", 0.9);
}

// (d)
var xd = d3.scaleLog().domain([0.137, 175]).range([60, 312]);
var yd = d3.scaleLog().domain([3.1e-6, 0.84]).range([609, 420]);
var gd = svg.append("g");
defs.append("clipPath").attr("id", "clipD").append("rect")
    .attr("x", 60).attr("y", 420).attr("width", 252).attr("height", 189);
scatter(gd, dAlpha0, xd, yd, circleSym, "#0000ff");
scatter(gd, dAlpha01, xd, yd, triSym, "#007a00");
scatter(gd, dAlpha05, xd, yd, triSym, "#ff00ff", 180);
scatter(gd, dAlphaInf, xd, yd, squareSym, "#000000");
gd.append("path").attr("clip-path", "url(#clipD)")
    .attr("d", d3.line().x(d => xd(d[0])).y(d => yd(d[1]))(dashD))
    .attr("fill", "none").attr("stroke", "#ff0000").attr("stroke-width", 2).attr("stroke-dasharray", "6,3.5");
logPanel(gd, xd, yd, [1e-2, 1e-4], [1, 10, 100], 56);

var legD = gd.append("g");
legD.append("rect").attr("x", 240).attr("y", 422.5).attr("width", 71.5).attr("height", 92.5)
    .attr("fill", "#fff").attr("stroke", "#000").attr("stroke-width", 1.4);
var dLegend = [
    {sym: circleSym, color: "#0000ff", rot: 0, label: "\u03b1=0"},
    {sym: triSym, color: "#007a00", rot: 0, label: "\u03b1=0.1"},
    {sym: triSym, color: "#ff00ff", rot: 180, label: "\u03b1=0.5"},
    {sym: squareSym, color: "#000000", rot: 0, label: "\u03b1=\u221e"}
];
dLegend.forEach(function(s, i) {
    var yy = 434 + i * 17.5;
    legD.append("path").attr("d", s.sym).attr("transform", "translate(257," + yy + ") rotate(" + s.rot + ")")
        .attr("fill", "none").attr("stroke", s.color).attr("stroke-width", 0.9);
    legD.append("text").attr("x", 268.5).attr("y", yy + 4.5).attr("font-size", 13).text(s.label);
});
legD.append("line").attr("x1", 245).attr("x2", 266).attr("y1", 505).attr("y2", 505)
    .attr("stroke", "#ff0000").attr("stroke-width", 2).attr("stroke-dasharray", "6,3.5");
var dl = legD.append("text").attr("x", 268.5).attr("y", 509.5).attr("font-size", 13).text("\u0394U");
dl.append("tspan").attr("dy", -6).attr("font-size", 9).text("-1.5");

[["Pure", 567], ["strain", 581.5], ["control", 596]].forEach(function(p) {
    gd.append("text").attr("x", 146).attr("y", p[1]).attr("text-anchor", "middle")
        .attr("font-size", 13).attr("font-weight", "bold").text(p[0]);
});
[["Pure", 270, 535], ["stress", 283, 543], ["control", 297, 551]].forEach(function(p) {
    gd.append("text").attr("transform", "translate(" + p[1] + "," + p[2] + ") rotate(-58)")
        .attr("text-anchor", "middle").attr("fill", "#0000ff")
        .attr("font-size", 13).attr("font-weight", "bold").text(p[0]);
});
gd.append("text").attr("x", 185).attr("y", 641).attr("text-anchor", "middle")
    .attr("font-size", 13).text("Burst displacement \u0394U (nm)");
gd.append("text").attr("transform", "translate(31,511) rotate(-90)").attr("text-anchor", "middle")
    .attr("font-size", 13).text("Probability density P(\u0394U)");
panelLabel(14, 424, "(d)");

// (e)
var xe = d3.scaleLog().domain([0.166, 309]).range([392, 643]);
var ye = d3.scaleLog().domain([7.2e-7, 0.785]).range([609, 419]);
var ge = svg.append("g");
defs.append("clipPath").attr("id", "clipE").append("rect")
    .attr("x", 392).attr("y", 419).attr("width", 251).attr("height", 190);
scatter(ge, eD1000, xe, ye, circleSym, "#0000ff");
scatter(ge, eD3000, xe, ye, diamondSym, "#000000");
ge.append("path").attr("clip-path", "url(#clipE)")
    .attr("d", d3.line().x(d => xe(d[0])).y(d => ye(d[1]))(dashE))
    .attr("fill", "none").attr("stroke", "#ff0000").attr("stroke-width", 2).attr("stroke-dasharray", "6,3.5");
logPanel(ge, xe, ye, [1e-2, 1e-4, 1e-6], [1, 10, 100], 388);

var legE = ge.append("g");
legE.append("rect").attr("x", 532).attr("y", 419.5).attr("width", 107).attr("height", 61.5)
    .attr("fill", "#fff").attr("stroke", "#000").attr("stroke-width", 1.4);
legE.append("path").attr("d", circleSym).attr("transform", "translate(548,435)")
    .attr("fill", "none").attr("stroke", "#0000ff").attr("stroke-width", 0.9);
legE.append("text").attr("x", 561.5).attr("y", 439.5).attr("font-size", 13).text("\u03b1=0,d=1000b");
legE.append("path").attr("d", diamondSym).attr("transform", "translate(548,453)")
    .attr("fill", "none").attr("stroke", "#000").attr("stroke-width", 0.9);
legE.append("text").attr("x", 561.5).attr("y", 457.5).attr("font-size", 13).text("\u03b1=0,d=3000b");
legE.append("line").attr("x1", 535).attr("x2", 557).attr("y1", 471.5).attr("y2", 471.5)
    .attr("stroke", "#ff0000").attr("stroke-width", 2).attr("stroke-dasharray", "6,3.5");
var el = legE.append("text").attr("x", 561.5).attr("y", 476).attr("font-size", 13).text("\u0394U");
el.append("tspan").attr("dy", -6).attr("font-size", 9).text("-1.5");

ge.append("text").attr("x", 500).attr("y", 641).attr("text-anchor", "middle")
    .attr("font-size", 13).text("Burst displacement \u0394U (nm)");
ge.append("text").attr("transform", "translate(364,511) rotate(-90)").attr("text-anchor", "middle")
    .attr("font-size", 13).text("Probability density P(\u0394U)");
panelLabel(348, 424, "(e)");
</script>
</body>
</html>
